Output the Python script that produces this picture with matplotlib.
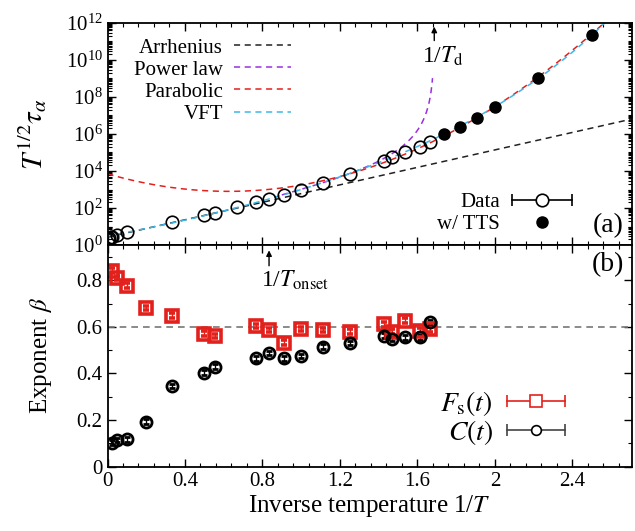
import numpy as np
import matplotlib as mpl
import matplotlib.pyplot as plt
from matplotlib.lines import Line2D
from matplotlib.legend_handler import HandlerLine2D, HandlerTuple
from matplotlib.ticker import FixedLocator, MultipleLocator, NullFormatter, FuncFormatter

mpl.rcParams.update({
    "font.family": ["Liberation Serif", "DejaVu Serif"],
    "mathtext.fontset": "stix",
    "font.size": 15,
    "axes.linewidth": 1.3,
    "xtick.direction": "in",
    "ytick.direction": "in",
    "xtick.top": True,
    "ytick.right": True,
})

# --- panel (a): T^1/2 tau_alpha vs 1/T ---
x_data = [0.005, 0.01, 0.02, 0.025, 0.05, 0.1, 0.333, 0.5, 0.556, 0.667, 0.769,
          0.833, 0.909, 1.0, 1.111, 1.25, 1.429, 1.471, 1.538, 1.613, 1.667]
tau_data = [2.0, 2.3, 2.6, 2.8, 3.4, 5.2, 18.0, 42.0, 56.0, 117.0, 204.0,
            295.0, 500.0, 1000.0, 2350.0, 7300.0, 3.6e4, 5.9e4, 1.07e5, 2.0e5, 3.8e5]
x_tts = [1.737, 1.82, 1.906, 2.0, 2.224, 2.501]
tau_tts = [1.0e6, 2.45e6, 7.2e6, 2.75e7, 1.1e9, 2.35e11]

# fit parameters (log10 scale)
arr_a, arr_b = 0.42, 2.36                  # Arrhenius: a + b x
pow_A, pow_g, pow_Tc = 1.88, 2.9, 0.5925   # power law: A - g log10(T - Tc)
par_c, par_k, par_x0 = 2.9, 2.42, 0.625    # parabolic: c + k (x - x0)^2
vft_a, vft_b, vft_t = 0.485, 1.964, 0.219  # VFT: a + b x / (1 - t x)

inv_Td = 1.687
inv_Tonset = 0.834

# --- panel (b): stretching exponent beta ---
x_beta = [0.025, 0.05, 0.1, 0.2, 0.333, 0.5, 0.556, 0.769, 0.833, 0.909,
          1.0, 1.111, 1.25, 1.429, 1.471, 1.538, 1.613, 1.667]
beta_fs = [0.841, 0.810, 0.776, 0.681, 0.648, 0.571, 0.561, 0.604, 0.587, 0.532,
           0.591, 0.586, 0.579, 0.610, 0.579, 0.626, 0.583, 0.589]
beta_c = [0.103, 0.115, 0.118, 0.193, 0.346, 0.403, 0.429, 0.465, 0.487, 0.465,
          0.475, 0.515, 0.530, 0.562, 0.548, 0.555, 0.555, 0.620]
beta_err = 0.01
beta_ref = 0.6

RED = "#e3211c"
PURPLE = "#9a2fe0"
BLUE = "#3db7e9"
DASH = (0, (4, 3))


def errbar_handle(color, marker, ms, mfc, mec):
    caps = Line2D([], [], color=color, lw=1.2, marker="|", ms=8, mew=1.2)
    mk = Line2D([], [], ls="none", marker=marker, ms=ms, mfc=mfc, mec=mec, mew=1.2)
    hm = {caps: HandlerLine2D(numpoints=2, marker_pad=0), mk: HandlerLine2D(numpoints=1)}
    return (caps, mk), hm


def main():
    fig = plt.figure(figsize=(6.35, 5.31), dpi=100)
    ax1 = fig.add_axes([0.1693, 0.5386, 0.8257, 0.4181])
    ax2 = fig.add_axes([0.1693, 0.1211, 0.8257, 0.4175], sharex=ax1)

    # fits
    xa = np.linspace(0.0, 2.72, 400)
    ax1.plot(xa, 10 ** (arr_a + arr_b * xa), ls=DASH, color="#222222", lw=1.1, label="Arrhenius")
    xp = np.linspace(0.9, 1.678, 300)
    ax1.plot(xp, 10 ** (pow_A - pow_g * np.log10(1 / xp - pow_Tc)), ls=DASH,
             color=PURPLE, lw=1.1, label="Power law")
    ax1.plot(xa, 10 ** (par_c + par_k * (xa - par_x0) ** 2), ls=DASH, color=RED, lw=1.1,
             label="Parabolic")
    xv = np.linspace(0.0, 2.62, 400)
    ax1.plot(xv, 10 ** (vft_a + vft_b * xv / (1 - vft_t * xv)), ls=DASH, color=BLUE, lw=1.1,
             label="VFT")

    ax1.plot(x_data, tau_data, ls="none", marker="o", ms=9, mfc="none", mec="k", mew=1.2)
    ax1.plot(x_tts, tau_tts, ls="none", marker="o", ms=8, mfc="k", mec="k")

    ax1.set_yscale("log")
    ax1.set_ylim(1, 1e12)
    ax1.set_xlim(0, 2.707)
    ax1.yaxis.set_major_locator(FixedLocator([10.0 ** k for k in range(0, 13, 2)]))
    ax1.yaxis.set_minor_locator(FixedLocator(
        [m * 10.0 ** k for k in range(0, 12) for m in range(1, 10) if not (m == 1 and k % 2 == 0)]))
    ax1.yaxis.set_minor_formatter(NullFormatter())
    ax1.set_ylabel(r"$T^{1/2}\tau_\alpha$", fontsize=21, labelpad=12)
    ax1.tick_params(labelbottom=False)

    leg1 = ax1.legend(loc="upper left", bbox_to_anchor=(0.023, 0.998), frameon=False, markerfirst=False,
                      handlelength=2.75, handletextpad=0.5, labelspacing=0.12, fontsize=15,
                      borderaxespad=0.3)
    ax1.add_artist(leg1)

    h_data, hm_data = errbar_handle("k", "o", 9, "white", "k")
    mk_fill = Line2D([], [], ls="none", marker="o", ms=8, mfc="k", mec="k")
    hm = {**hm_data, mk_fill: HandlerLine2D(numpoints=1), tuple: HandlerTuple(ndivide=1, pad=0)}
    ax1.legend([h_data, mk_fill], ["Data", "w/ TTS"], handler_map=hm,
               loc="lower right", bbox_to_anchor=(0.885, 0.05), frameon=False, markerfirst=False,
               handlelength=2.85, handletextpad=0.6, labelspacing=0.1, fontsize=15,
               borderpad=0, borderaxespad=0)

    ax1.text(0.985, 0.03, "(a)", transform=ax1.transAxes, ha="right", va="bottom", fontsize=20)
    ax1.annotate("", xy=(inv_Td, 10 ** 11.95), xytext=(inv_Td, 10 ** 10.9),
                 arrowprops=dict(arrowstyle="-|>", color="k", lw=1.0, mutation_scale=8))
    ax1.text(inv_Td + 0.045, 10 ** 10.85, r"1/$T_{\rm d}$", ha="center", va="top", fontsize=17)

    # panel (b)
    ax2.axhline(beta_ref, ls=DASH, color="#777777", lw=1.2)
    ax2.errorbar(x_beta, beta_fs, yerr=beta_err, ls="none", marker="s", ms=9, mfc="none", mec=RED,
                 mew=2.6, ecolor=RED, elinewidth=1.0, capsize=2)
    ax2.errorbar(x_beta, beta_c, yerr=beta_err, ls="none", marker="o", ms=8, mfc="none", mec="k",
                 mew=2.0, ecolor="k", elinewidth=1.0, capsize=2)
    ax2.set_ylim(0, 0.951)
    ax2.yaxis.set_major_locator(MultipleLocator(0.2))
    ax2.yaxis.set_minor_locator(MultipleLocator(0.1))
    ax2.yaxis.set_major_formatter(FuncFormatter(lambda v, p: f"{v:g}"))
    ax2.xaxis.set_major_locator(MultipleLocator(0.4))
    ax2.xaxis.set_minor_locator(MultipleLocator(0.08))
    ax2.xaxis.set_major_formatter(FuncFormatter(lambda v, p: f"{v:g}"))
    ax2.set_ylabel(r"Exponent $\beta$", fontsize=18, labelpad=16)
    ax2.set_xlabel(r"Inverse temperature 1/$T$", fontsize=18, labelpad=2)

    ax2.annotate("", xy=(inv_Tonset, 0.94), xytext=(inv_Tonset, 0.85),
                 arrowprops=dict(arrowstyle="-|>", color="k", lw=1.0, mutation_scale=8))
    ax2.text(inv_Tonset - 0.04, 0.80, r"1/$T_{\rm onset}$", ha="left", va="center", fontsize=17)
    ax2.text(0.985, 0.97, "(b)", transform=ax2.transAxes, ha="right", va="top", fontsize=20)

    h_fs, hm_fs = errbar_handle(RED, "s", 9, "white", RED)
    h_c, hm_c = errbar_handle("#444444", "o", 7, "white", "k")
    hm2 = {**hm_fs, **hm_c, tuple: HandlerTuple(ndivide=1, pad=0)}
    ax2.legend([h_fs, h_c], [r"$F_{\rm s}(t)$", r"$C(t)$"], handler_map=hm2,
               loc="lower right", bbox_to_anchor=(0.873, 0.09), frameon=False, markerfirst=False,
               handlelength=2.1, handletextpad=0.5, labelspacing=0.0, fontsize=20,
               borderpad=0, borderaxespad=0)

    for ax in (ax1, ax2):
        ax.tick_params(which="major", length=6, width=1.0, labelsize=15)
        ax.tick_params(which="minor", length=3, width=0.8)

    fig.savefig("out.png", dpi=100)


if __name__ == "__main__":
    main()
